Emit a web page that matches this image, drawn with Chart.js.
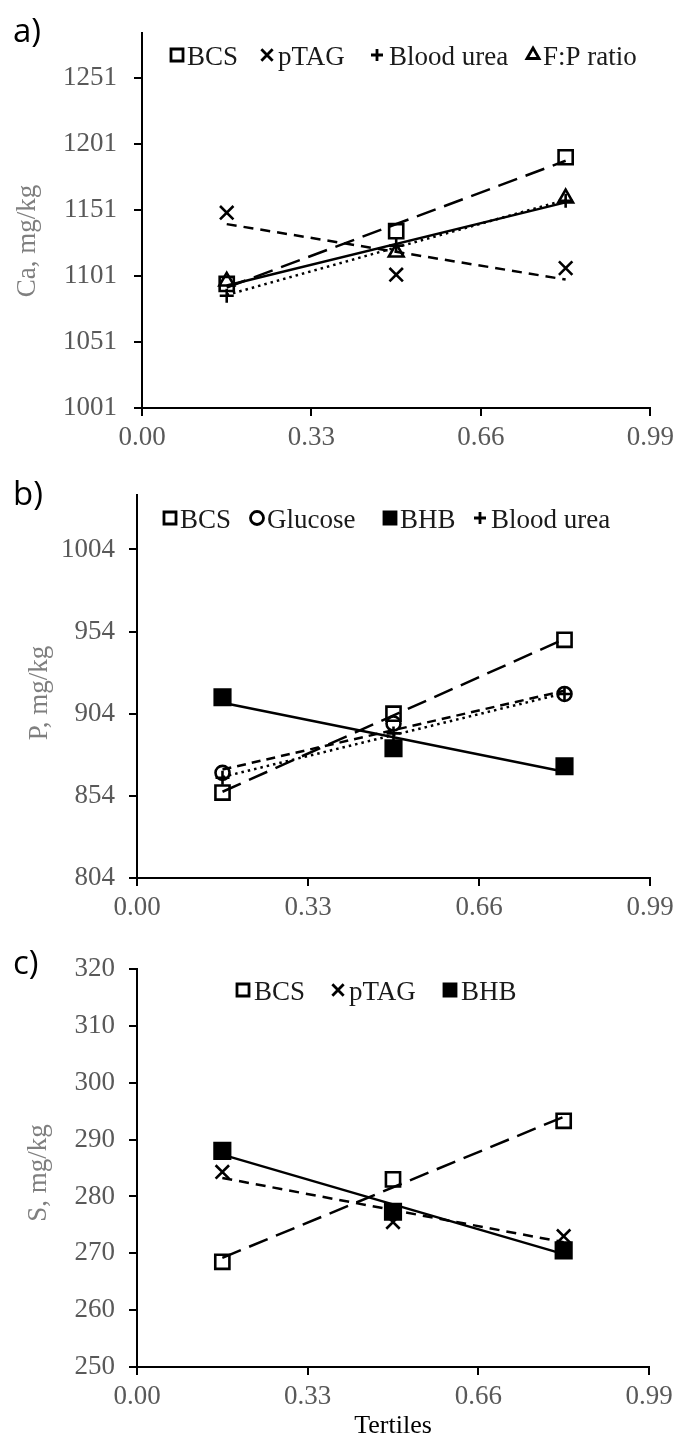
<!DOCTYPE html>
<html>
<head>
<meta charset="utf-8">
<script src="https://cdn.jsdelivr.net/npm/chart.js@4.4.0/dist/chart.umd.min.js"></script>
<style>
  html, body { margin: 0; padding: 0; background: #fff; }
  body { width: 680px; height: 1439px; position: relative; overflow: hidden; }
  canvas { position: absolute; left: 0; }
</style>
</head>
<body>
<canvas id="chartA" width="680" height="465" style="top:0px"></canvas>
<canvas id="chartB" width="680" height="470" style="top:465px"></canvas>
<canvas id="chartC" width="680" height="504" style="top:935px"></canvas>
<script>
// x positions of the three tertile groups and the x tick labels
const tertileX = [0.165, 0.495, 0.825];
const xTickValues = [0, 0.33, 0.66, 0.99];

// y tick values per panel
const caTicks = [1001, 1051, 1101, 1151, 1201, 1251];
const pTicks = [804, 854, 904, 954, 1004];
const sTicks = [250, 260, 270, 280, 290, 300, 310, 320];

// a) Ca, mg/kg
const caBCS = [1095, 1135, 1191];
const caPTAG = [1149, 1102, 1107];
const caUrea = [1086, 1124, 1158];
const caFP = [1097, 1119, 1160];

// b) P, mg/kg
const pBCS = [856, 904, 949];
const pGlucose = [868, 898, 916];
const pBHB = [914, 883, 872];
const pUrea = [865, 892, 916];

// c) S, mg/kg
const sBCS = [268.5, 283, 293.3];
const sPTAG = [284.3, 275.5, 273];
const sBHB = [288, 277.3, 270.5];

const SERIF = "'Liberation Serif', 'Times New Roman', serif";
const TICK_GRAY = '#595959';

// marker + trendline look for each variable
const STYLES = {
  BCS:     { pointStyle: 'rect', radius: 10, fill: false, dash: [20, 9], width: 2.5 },
  pTAG:    { pointStyle: 'crossRot', radius: 9.5, fill: false, dash: [10, 7], width: 2.5 },
  urea:    { pointStyle: 'cross', radius: 7, fill: false, dash: [2.5, 4], width: 2.5 },
  FP:      { pointStyle: 'triangle', radius: 8.5, fill: false, dash: [], width: 2.5 },
  glucose: { pointStyle: 'circle', radius: 7, fill: false, dash: [9, 6], width: 2.5 },
  BHB:     { pointStyle: 'rect', radius: 11, fill: true, dash: [], width: 2.5 }
};

// least squares trendline, drawn between the first and last group (like Excel)
function trendEnds(xs, ys) {
  const n = xs.length;
  const mx = xs.reduce((a, b) => a + b, 0) / n;
  const my = ys.reduce((a, b) => a + b, 0) / n;
  let sxy = 0, sxx = 0;
  for (let i = 0; i < n; i++) {
    sxy += (xs[i] - mx) * (ys[i] - my);
    sxx += (xs[i] - mx) * (xs[i] - mx);
  }
  const b = sxy / sxx, a = my - b * mx;
  return [{ x: xs[0], y: a + b * xs[0] }, { x: xs[n - 1], y: a + b * xs[n - 1] }];
}

function buildDatasets(series) {
  const trends = [], markers = [];
  series.forEach(s => {
    const st = STYLES[s.style];
    trends.push({
      label: s.label + ' trend',
      data: trendEnds(tertileX, s.values),
      showLine: true,
      borderColor: '#000',
      borderWidth: st.width,
      borderDash: st.dash,
      pointRadius: 0,
      fill: false
    });
    markers.push({
      label: s.label,
      data: s.values.map((v, i) => ({ x: tertileX[i], y: v })),
      showLine: false,
      pointStyle: st.pointStyle,
      pointRadius: st.radius,
      pointBorderWidth: 2.6,
      pointBorderColor: '#000',
      pointBackgroundColor: st.fill ? '#000' : 'rgba(0,0,0,0)'
    });
  });
  return trends.concat(markers);
}

function drawMarker(ctx, styleKey, x, y, r) {
  const st = STYLES[styleKey];
  ctx.save();
  ctx.strokeStyle = '#000';
  ctx.fillStyle = st.fill ? '#000' : 'rgba(0,0,0,0)';
  ctx.lineWidth = 2.8;
  Chart.helpers.drawPoint(ctx, { pointStyle: st.pointStyle, radius: r, borderWidth: 2.8, rotation: 0 }, x, y);
  ctx.restore();
}

function makePanel(cfg) {
  const canvas = document.getElementById(cfg.id);
  const canvasH = canvas.height;

  // draws the bits Chart.js can't place where the original has them
  const decor = {
    id: 'decor',
    afterDraw(chart) {
      const ctx = chart.ctx;
      ctx.save();
      ctx.translate(0, -cfg.top); // work in page coordinates

      // panel letter
      ctx.fillStyle = '#000';
      ctx.font = "33px 'Open Sans', 'Liberation Sans', sans-serif";
      ctx.textAlign = 'left';
      ctx.textBaseline = 'alphabetic';
      ctx.fillText(cfg.letter, 13, cfg.letterY);

      // y axis title
      ctx.save();
      ctx.translate(cfg.yTitle.x, cfg.yTitle.y);
      ctx.rotate(-Math.PI / 2);
      ctx.fillStyle = '#7f7f7f';
      ctx.font = '27px ' + SERIF;
      ctx.textAlign = 'center';
      ctx.textBaseline = 'middle';
      ctx.fillText(cfg.yTitle.text, 0, 0);
      ctx.restore();

      // legend
      ctx.font = '27px ' + SERIF;
      ctx.fillStyle = '#1a1a1a';
      ctx.textAlign = 'left';
      ctx.textBaseline = 'alphabetic';
      cfg.legend.items.forEach(it => {
        drawMarker(ctx, it.style, it.mx, cfg.legend.my, it.r);
        ctx.fillText(it.label, it.tx, cfg.legend.base);
      });

      if (cfg.xTitle) {
        ctx.font = '26px ' + SERIF;
        ctx.fillStyle = '#000';
        ctx.textAlign = 'center';
        ctx.fillText(cfg.xTitle.text, cfg.xTitle.x, cfg.xTitle.y);
      }
      ctx.restore();
    }
  };

  return new Chart(canvas.getContext('2d'), {
    type: 'scatter',
    data: { datasets: buildDatasets(cfg.series) },
    options: {
      responsive: false,
      animation: false,
      devicePixelRatio: 1,
      layout: { padding: { top: cfg.area.top - cfg.top, right: 680 - cfg.area.right, left: 0, bottom: 0 } },
      plugins: { legend: { display: false }, tooltip: { enabled: false } },
      scales: {
        x: {
          type: 'linear',
          min: 0,
          max: 0.99,
          afterBuildTicks: s => { s.ticks = xTickValues.map(v => ({ value: v })); },
          afterFit: s => { s.height = canvasH - (cfg.area.bottom - cfg.top); },
          grid: { drawOnChartArea: false, drawTicks: true, tickLength: 8, color: '#000', lineWidth: 2 },
          border: { color: '#000', width: 2 },
          ticks: {
            color: TICK_GRAY,
            font: { family: SERIF, size: 27 },
            padding: 6,
            maxRotation: 0,
            autoSkip: false,
            callback: v => Number(v).toFixed(2)
          }
        },
        y: {
          type: 'linear',
          min: cfg.yMin,
          max: cfg.yMax,
          afterBuildTicks: s => { s.ticks = cfg.yTicks.map(v => ({ value: v })); },
          afterFit: s => { s.width = cfg.area.left; },
          grid: { drawOnChartArea: false, drawTicks: true, tickLength: 8, color: '#000', lineWidth: 2 },
          border: { color: '#000', width: 2 },
          ticks: {
            color: TICK_GRAY,
            font: { family: SERIF, size: 27 },
            padding: cfg.yPad,
            autoSkip: false,
            callback: v => String(v)
          }
        }
      }
    },
    plugins: [decor]
  });
}

makePanel({
  id: 'chartA', top: 0, letter: 'a)', letterY: 42,
  area: { left: 142, right: 652, top: 25, bottom: 408 },
  yMin: 1001, yMax: 1285, yTicks: caTicks, yPad: 17,
  yTitle: { text: 'Ca, mg/kg', x: 28, y: 241 },
  series: [
    { label: 'BCS', values: caBCS, style: 'BCS' },
    { label: 'pTAG', values: caPTAG, style: 'pTAG' },
    { label: 'Blood urea', values: caUrea, style: 'urea' },
    { label: 'F:P ratio', values: caFP, style: 'FP' }
  ],
  legend: {
    my: 55, base: 65,
    items: [
      { style: 'BCS', r: 8.5, mx: 177, tx: 187, label: 'BCS' },
      { style: 'pTAG', r: 8, mx: 267, tx: 278, label: 'pTAG' },
      { style: 'urea', r: 6, mx: 377, tx: 389, label: 'Blood urea' },
      { style: 'FP', r: 7, mx: 533, tx: 543, label: 'F:P ratio' }
    ]
  }
});

makePanel({
  id: 'chartB', top: 465, letter: 'b)', letterY: 505,
  area: { left: 137, right: 650, top: 488, bottom: 878 },
  yMin: 804, yMax: 1037, yTicks: pTicks, yPad: 14,
  yTitle: { text: 'P, mg/kg', x: 40, y: 693 },
  series: [
    { label: 'BCS', values: pBCS, style: 'BCS' },
    { label: 'Glucose', values: pGlucose, style: 'glucose' },
    { label: 'BHB', values: pBHB, style: 'BHB' },
    { label: 'Blood urea', values: pUrea, style: 'urea' }
  ],
  legend: {
    my: 518, base: 528,
    items: [
      { style: 'BCS', r: 8.5, mx: 170, tx: 180, label: 'BCS' },
      { style: 'glucose', r: 6.5, mx: 257, tx: 267, label: 'Glucose' },
      { style: 'BHB', r: 8.5, mx: 390, tx: 400, label: 'BHB' },
      { style: 'urea', r: 6, mx: 480, tx: 491, label: 'Blood urea' }
    ]
  }
});

makePanel({
  id: 'chartC', top: 935, letter: 'c)', letterY: 974,
  area: { left: 137, right: 649, top: 969, bottom: 1367 },
  yMin: 250, yMax: 320, yTicks: sTicks, yPad: 14,
  yTitle: { text: 'S, mg/kg', x: 39, y: 1173 },
  xTitle: { text: 'Tertiles', x: 393, y: 1433 },
  series: [
    { label: 'BCS', values: sBCS, style: 'BCS' },
    { label: 'pTAG', values: sPTAG, style: 'pTAG' },
    { label: 'BHB', values: sBHB, style: 'BHB' }
  ],
  legend: {
    my: 990, base: 1000,
    items: [
      { style: 'BCS', r: 8.5, mx: 243, tx: 254, label: 'BCS' },
      { style: 'pTAG', r: 8, mx: 338, tx: 349, label: 'pTAG' },
      { style: 'BHB', r: 8.5, mx: 450, tx: 461, label: 'BHB' }
    ]
  }
});
</script>
</body>
</html>
